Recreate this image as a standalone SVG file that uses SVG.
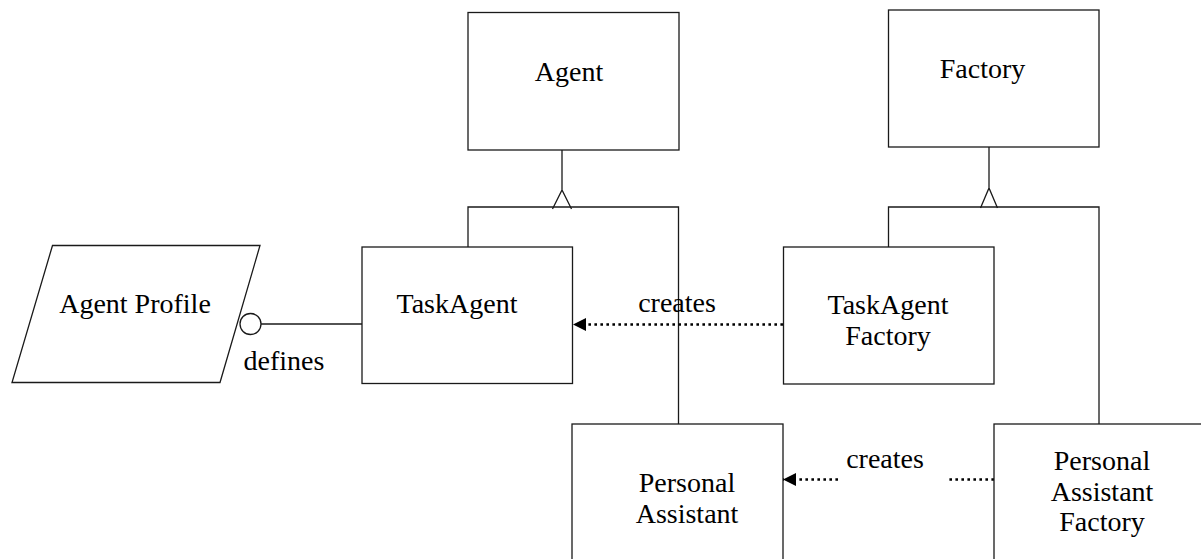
<svg xmlns="http://www.w3.org/2000/svg" width="1201" height="559" viewBox="0 0 1201 559">
  <style>
    .box { fill: #fff; stroke: #1a1a1a; stroke-width: 1.3; }
    .line { fill: none; stroke: #1a1a1a; stroke-width: 1.3; }
    .dot { fill: none; stroke: #000; stroke-width: 2.4; stroke-dasharray: 2.6 3.4; }
    text { font-family: 'Liberation Serif', serif; font-size: 28px; fill: #000; text-anchor: middle; }
  </style>
  <defs>
    <marker id="arrow" markerWidth="13" markerHeight="13" refX="13" refY="6.5" orient="auto" markerUnits="userSpaceOnUse">
      <path d="M0,0 L13,6.5 L0,13 Z" fill="#000"/>
    </marker>
  </defs>

  <rect width="1201" height="559" fill="#fff"/>

  <!-- connectors -->
  <g id="connectors">
    <!-- Agent generalisation -->
    <path class="line" d="M562,150 V190 M552.5,209 L562,190 L571.5,209"/>
    <path class="line" d="M468,247 V207 H678.5 V424"/>
    <!-- Factory generalisation -->
    <path class="line" d="M989,147 V188 M980.5,208 L989,188 L997.5,208"/>
    <path class="line" d="M888.5,247 V207 H1099 V424"/>
    <!-- defines -->
    <circle class="box" cx="250.5" cy="324" r="10.5"/>
    <line class="line" x1="261" y1="324" x2="362" y2="324"/>
    <text x="284" y="370">defines</text>
    <!-- creates: TaskAgent Factory to TaskAgent -->
    <line class="dot" x1="783" y1="324.5" x2="573" y2="324.5" marker-end="url(#arrow)"/>
    <text x="677" y="312">creates</text>
    <!-- creates: Personal Assistant Factory to Personal Assistant -->
    <line class="dot" x1="994" y1="479.5" x2="946" y2="479.5"/>
    <line class="dot" x1="838" y1="479.5" x2="783" y2="479.5" marker-end="url(#arrow)"/>
    <text x="885" y="468">creates</text>
  </g>

  <g id="agent">
    <rect class="box" x="468" y="12.5" width="211" height="137.5"/>
    <text x="569" y="81">Agent</text>
  </g>

  <g id="factory">
    <rect class="box" x="888.5" y="10" width="210.5" height="137"/>
    <text x="982.5" y="78">Factory</text>
  </g>

  <g id="agent-profile">
    <polygon class="box" points="52.5,245.5 260,245.5 220,382.5 12,382.5"/>
    <text x="135" y="313">Agent Profile</text>
  </g>

  <g id="task-agent">
    <rect class="box" x="362" y="247" width="210.5" height="136.5"/>
    <text x="457" y="313">TaskAgent</text>
  </g>

  <g id="task-agent-factory">
    <rect class="box" x="783.5" y="247" width="210.5" height="137"/>
    <text x="888" y="314">TaskAgent</text>
    <text x="888" y="345">Factory</text>
  </g>

  <g id="personal-assistant">
    <rect class="box" x="572" y="424" width="211" height="150"/>
    <text x="687" y="492">Personal</text>
    <text x="687" y="523">Assistant</text>
  </g>

  <g id="personal-assistant-factory">
    <rect class="box" x="994" y="424" width="220" height="150"/>
    <text x="1102" y="470">Personal</text>
    <text x="1102" y="501">Assistant</text>
    <text x="1102" y="531">Factory</text>
  </g>
</svg>
